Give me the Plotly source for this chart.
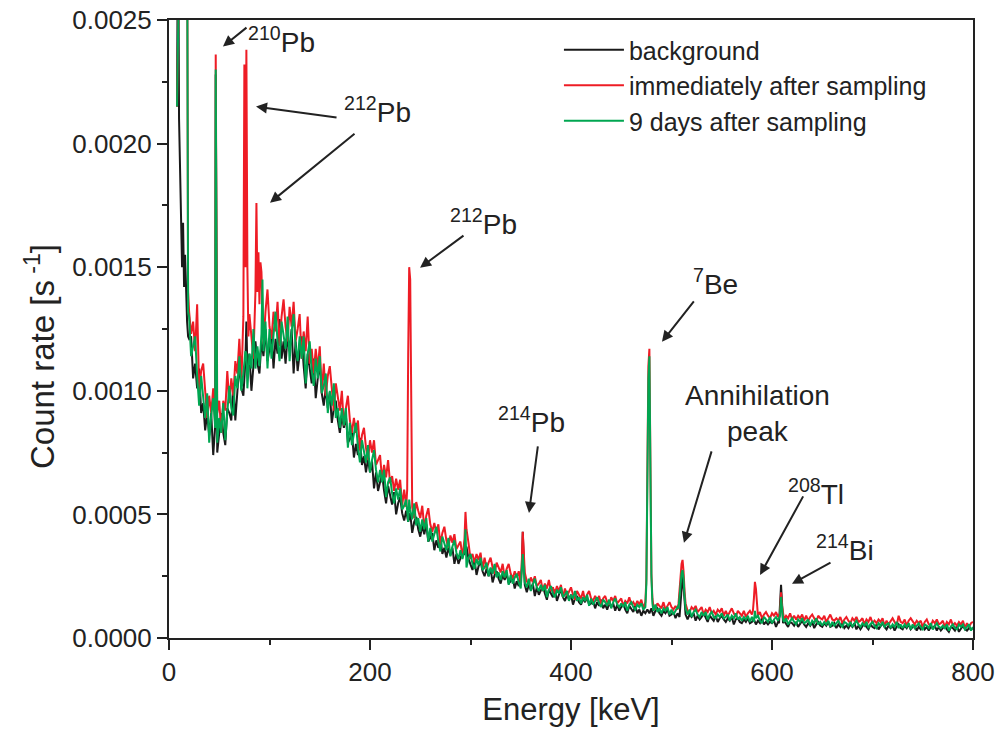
import plotly.graph_objects as go

# ---------------- data (count rate in units of 1e-5 s^-1) ----------------
GRID_START, GRID_STEP = 20, 2   # keV, regular channel grid 20..800 keV

low_energy = [8, 9, 10, 11, 12, 13, 14, 15, 16, 17, 18, 19]
black_low = [215, 300, 210, 190, 170, 150, 168, 142, 155, 135, 128, 122]
red_low = [215, 300, 300, 300, 300, 300, 300, 300, 300, 300, 300, 140]
green_low = [215, 300, 300, 300, 300, 300, 300, 300, 300, 300, 300, 132]

green_grid = [
    130, 114, 118, 122, 106, 94, 106, 98, 89, 99,
    79, 90, 97, 85, 79, 89, 83, 95, 80, 93,
    102, 93, 90, 106, 101, 114, 100, 107, 116, 101,
    115, 109, 125, 109, 118, 110, 123, 116, 128, 109,
    125, 113, 123, 132, 120, 112, 128, 123, 117, 130,
    112, 124, 131, 118, 112, 122, 113, 122, 103, 115,
    120, 108, 102, 113, 105, 114, 99, 102, 107, 91,
    100, 94, 103, 89, 93, 85, 93, 86, 93, 77,
    87, 78, 83, 87, 77, 71, 80, 76, 71, 78,
    67, 72, 76, 68, 63, 68, 63, 68, 57, 63,
    65, 58.5, 54.5, 60.5, 56, 60.5, 52, 53.5, 56, 47,
    52, 48, 54.5, 45.5, 48.5, 43, 48, 44, 48.5, 39,
    44.5, 39, 42, 45, 39, 35, 41, 38.5, 35.5, 40.5,
    33, 37, 39.5, 34.5, 32, 35.5, 32, 35.5, 28.5, 32.5,
    34, 30, 28, 32, 29.5, 32.5, 27.5, 28.5, 30.5, 25,
    28.5, 26, 30, 24.5, 26.5, 23.5, 27, 24.5, 27.5, 21.5,
    25.5, 22, 24.5, 26, 22.5, 20, 24, 22.5, 20.5, 24,
    19, 22, 24, 20.5, 19, 21.5, 19, 21.5, 16.5, 19.5,
    21, 18, 16.5, 19.5, 18, 20.5, 16.5, 17.5, 19, 15,
    17.5, 16, 19, 15, 16.5, 14, 16.5, 15, 17.5, 13,
    16, 13.5, 15, 16.5, 14, 12.5, 15.5, 14.5, 13, 15.5,
    12, 14.5, 16, 13.5, 12.5, 14, 12.5, 14.5, 11, 13.5,
    14.5, 12.5, 11.5, 13.5, 12.5, 14, 11.5, 12.5, 13.5, 10.5,
    12.5, 11, 13.5, 10.5, 12, 10, 12, 11, 12.5, 9.5,
    11.5, 9.5, 11, 12.5, 10, 8.5, 11.5, 10.5, 9.5, 11.5,
    8.5, 10.5, 11.5, 9.5, 8.5, 10.5, 9, 10.5, 7.5, 9.5,
    10.5, 8.5, 8, 9.5, 8.5, 10, 8, 8.5, 9.5, 7,
    9, 8, 10, 7.5, 8.5, 7, 8.5, 7.5, 9, 6.5,
    8.5, 6.5, 8, 9, 7, 6, 8.5, 7.5, 6.5, 8.5,
    6, 7.5, 8.5, 7, 6, 7.5, 6.5, 8, 5.5, 7,
    8, 6.5, 5.5, 7.5, 6.5, 8, 6, 6.5, 7.5, 5,
    7, 6, 8, 5.5, 6.5, 5, 6.5, 5.5, 7, 4.5,
    6.5, 5, 6, 7, 5.5, 4.5, 6.5, 6, 5, 6.5,
    4.5, 6, 7, 5.5, 4.5, 6, 5, 6.5, 4, 5.5,
    6.5, 5, 4, 6, 5, 6.5, 4.5, 5.5, 6, 4,
    5.5, 4.5, 6.5, 4, 5.5, 4, 5.5, 4.5, 6, 3.5,
    5.5, 4, 5, 6, 4.5, 3.5, 5.5, 5, 4, 6,
    3.5, 5, 6, 4.5, 4, 5, 4, 5.5, 3, 4.5,
    5.5, 4, 3.5, 5.5, 4.5, 5.5, 3.5, 4.5, 5.5, 3,
    4.5,
]

red_grid = [
    132, 123, 128, 116, 135, 100, 108, 111, 98, 89,
    98, 91, 101, 86, 91, 96, 83, 96, 92, 108,
    95, 105, 98, 112, 107, 121, 103, 120, 109, 121,
    131, 120, 113, 140, 146, 142, 148, 119, 132, 141,
    126, 121, 132, 124, 136, 118, 130, 137, 126, 120,
    134, 126, 136, 120, 125, 131, 113, 124, 116, 130,
    111, 117, 107, 117, 109, 118, 99, 111, 98, 106,
    110, 99, 92, 103, 97, 92, 100, 86, 93, 98,
    88, 83, 89, 83, 88, 76, 82, 85, 77, 72,
    80, 75, 80, 70, 72, 74, 64, 70, 65, 72,
    62.5, 65.5, 59.5, 64.5, 60, 64, 53.5, 60, 53, 57,
    59.5, 53, 48.5, 55, 51.5, 48.5, 53.5, 44.5, 49.5, 52.5,
    46, 43, 46.5, 42.5, 46, 38, 42.5, 45, 39.5, 36.5,
    41.5, 38.5, 42, 36, 37.5, 39, 32.5, 40, 44, 38.5,
    32, 34, 30.5, 34, 31.5, 34.5, 28, 32.5, 28, 30.5,
    32.5, 28.5, 26, 30.5, 28.5, 26.5, 30, 24.5, 28, 30,
    26, 24, 27, 24.5, 27, 22, 25, 26.5, 23, 21.5,
    24.5, 22.5, 25, 21, 22, 23.5, 19, 22, 20, 23.5,
    19, 20.5, 18, 21, 19, 21.5, 16.5, 20, 17, 19,
    20.5, 17.5, 15.5, 19, 17.5, 16, 19, 15, 17.5, 19,
    16, 15, 17, 15, 17, 13.5, 16, 17, 14.5, 13.5,
    16.5, 15, 17, 14, 15, 16, 13, 15, 14, 16.5,
    13.5, 14.5, 13, 15, 13.5, 15.5, 12, 14.5, 12.5, 14,
    15.5, 13, 11.5, 14, 13, 12, 14.5, 11.5, 13, 14.5,
    12.5, 11.5, 13, 11.5, 13.5, 10.5, 12, 13, 11, 10.5,
    12.5, 11.5, 13, 10.5, 11.5, 12.5, 9.5, 11.5, 10.5, 12.5,
    10, 11, 9.5, 11.5, 10.5, 12, 9, 11, 9, 10.5,
    12, 10, 8.5, 11, 10, 9, 11, 8.5, 10, 11,
    9.5, 9, 10.5, 9, 10.5, 8, 9.5, 10.5, 9, 8,
    10, 9, 10.5, 8.5, 10, 10, 7.5, 9, 8, 10,
    7.5, 9, 7.5, 9, 8, 9.5, 7, 9, 7, 8.5,
    9.5, 8, 6.5, 9, 8, 7.5, 9, 6.5, 8, 9.5,
    7.5, 7, 8, 7, 8.5, 6, 7.5, 8.5, 7, 6,
    8, 7, 8.5, 6.5, 7, 8, 5.5, 7.5, 6.5, 8.5,
    6, 7, 6, 7.5, 6.5, 8, 5, 7, 5.5, 7,
    8, 6.5, 5, 9, 6.5, 6, 7.5, 5, 7, 8,
    6.5, 5.5, 7, 6, 7, 4.5, 6.5, 7.5, 5.5, 5,
    7, 6, 7.5, 5.5, 6, 7, 4.5, 6.5, 5.5, 7.5,
    5, 6, 5, 6.5, 5.5, 7, 4, 6, 4.5, 6,
    6.5,
]

black_grid = [
    121, 122, 105, 111, 101, 109, 91, 95, 84, 91,
    82, 91, 74, 86, 75, 83, 91, 83, 78, 93,
    91, 88, 103, 88, 101, 111, 101, 98, 109, 103,
    115, 100, 112, 120, 111, 107, 120, 114, 125, 112,
    117, 124, 109, 121, 115, 129, 113, 120, 111, 122,
    116, 125, 107, 120, 108, 116, 122, 110, 101, 115,
    109, 103, 113, 97, 105, 111, 99, 94, 101, 93,
    99.5, 87, 93, 96, 88, 83, 90, 85, 90, 79,
    80.5, 83, 73, 78.5, 74, 81, 70, 73.5, 67, 72.5,
    67, 71.5, 60.5, 67, 59.5, 63.5, 66.5, 59.5, 54.5, 61.5,
    57.5, 54, 59, 50, 54.5, 57, 50.5, 47.5, 51.5, 47,
    50.5, 42.5, 47, 49, 44, 41, 45.5, 42, 46, 39,
    40.5, 42.5, 35.5, 39.5, 36.5, 41, 34, 36.5, 32.5, 36.5,
    33.5, 36.5, 30, 34, 30, 32.5, 34.5, 34, 37, 32,
    29.5, 27.5, 31.5, 25.5, 29, 31, 27, 25, 28, 25,
    28, 22.5, 25.5, 27, 24, 22, 25.5, 23.5, 26, 22,
    23, 24.5, 20, 23, 21, 24.5, 19.5, 21.5, 18.5, 21.5,
    19.5, 22, 17, 20.5, 17.5, 19.5, 21, 18, 15.5, 19.5,
    18, 16.5, 19.5, 15, 17.5, 19.5, 16.5, 15, 17.5, 15.5,
    17.5, 13.5, 16, 17, 14.5, 13.5, 16, 14.5, 16.5, 13.5,
    14, 15, 12, 14.5, 13, 15.5, 12, 13.5, 11.5, 14,
    12.5, 14, 11, 13.5, 11, 12.5, 14, 11.5, 10, 13,
    11.5, 10.5, 13, 10, 11.5, 9, 11, 10, 11.5, 10,
    12, 9, 11, 12, 10, 9, 11, 10, 11.5, 9,
    9.5, 10.5, 8, 10, 8.5, 11, 8, 9.5, 7.5, 9.5,
    8.5, 10, 7, 9, 7.5, 8.5, 10, 8, 6.5, 9,
    8, 7, 9, 6.5, 8, 9, 7.5, 6.5, 8, 7,
    8.5, 5.5, 7.5, 8, 6.5, 6, 7.5, 6.5, 8, 6,
    6.5, 7.5, 5.5, 7, 6, 8, 5.5, 6.5, 5.5, 6.5,
    6, 7, 4.5, 6.5, 5, 6, 7, 5.5, 4.5, 6.5,
    6, 5, 6.5, 4.5, 6, 7, 5.5, 4.5, 6, 5,
    6.5, 4, 5.5, 6.5, 5, 4.5, 6, 5, 6.5, 4.5,
    5, 6, 4, 5.5, 4.5, 6, 4, 5, 4, 5.5,
    4.5, 6, 3.5, 5, 3.5, 5, 6, 4.5, 3.5, 5.5,
    4.5, 4, 5.5, 3.5, 5, 6, 4.5, 3.5, 5, 4,
    5, 3, 4.5, 5.5, 4, 3.5, 5, 4, 5.5, 3.5,
    4.5, 5, 3, 4.5, 3.5, 5.5, 3.5, 4.5, 3, 4.5,
    4, 5, 3, 4.5, 3, 4, 5, 3.5, 2.5, 4.5,
    4, 3, 5, 2.5, 4, 5, 3.5, 3, 4, 3.5,
    4,
]

# peak channels (energy keV, count rate 1e-5 s^-1)
black_peak_E = [46.5, 76, 77, 78, 351, 352, 353, 509, 510, 511, 512, 513, 607, 608, 609, 610, 611]
black_peak_v = [228, 112, 128, 108, 28, 43, 32, 14, 20, 25, 21, 13, 6, 12, 21.5, 14, 6]

red_peak_E = [46.5, 74, 75, 76, 77, 78, 79, 87, 88, 89, 90, 91, 237, 238, 239, 240, 241, 295,
              351, 352, 353, 475, 476, 477, 478, 479, 480, 481, 507, 508, 509, 510, 511, 512,
              513, 514, 581, 582, 583, 584, 585, 608, 609, 610]
red_peak_v = [236, 130, 232, 150, 238, 150, 122, 176, 140, 156, 135, 152, 60, 115, 150, 145, 75, 51,
              30, 43, 35, 24, 65, 110, 117, 68, 26, 16, 14, 19, 26, 30, 31.6, 27,
              19, 14, 11, 16, 22.7, 20, 13, 10, 18.5, 13]

green_peak_E = [46.5, 77, 93, 239, 295, 352, 475, 476, 477, 478, 479, 480, 481, 507, 508, 509,
                510, 511, 512, 513, 514, 583, 608, 609, 610, 611]
green_peak_v = [230, 115, 145, 56, 44, 34, 22, 60, 105, 114, 65, 25, 14, 12, 17, 23,
                26, 27.5, 24, 17, 12, 11, 9, 16.6, 12, 7.5]

series_names = ["background", "immediately after sampling", "9 days after sampling"]
series_colors = ["#1a1a1a", "#ee1c25", "#00a651"]

# labels: (text, energy keV, rate s^-1)
label_text = ["<sup>210</sup>Pb", "<sup>212</sup>Pb", "<sup>212</sup>Pb", "<sup>214</sup>Pb",
              "<sup>7</sup>Be", "Annihilation<br>peak", "<sup>208</sup>Tl", "<sup>214</sup>Bi"]
label_E = [112.0, 207.0, 313.0, 361.0, 544.0, 586.0, 644.0, 673.0]
label_v = [0.002420, 0.002134, 0.001684, 0.000883, 0.001441, 0.000907, 0.000591, 0.000364]

# arrows: head (energy, rate) <- tail (energy, rate)
arrow_head_E = [53.7, 86.6, 100.5, 249.8, 358.2, 490.5, 512.4, 588.1, 619.9]
arrow_head_v = [0.002393, 0.002150, 0.001761, 0.001498, 0.000506, 0.001198, 0.000385, 0.000255, 0.000219]
arrow_tail_E = [78.6, 168.2, 186.1, 294.5, 367.2, 523.4, 540.3, 631.8, 659.7]
arrow_tail_v = [0.002474, 0.002105, 0.002045, 0.001632, 0.000781, 0.001368, 0.000761, 0.000579, 0.000308]


def build(low_v, grid_v, peak_E, peak_v):
    assert len(grid_v) == 391, len(grid_v)
    pts = dict(zip(low_energy, low_v))
    for i, v in enumerate(grid_v):
        pts[GRID_START + GRID_STEP * i] = v
    for e, v in zip(peak_E, peak_v):
        pts[e] = v
    xs = sorted(pts)
    return xs, [pts[e] * 1e-5 for e in xs]


spectra = [
    build(black_low, black_grid, black_peak_E, black_peak_v),
    build(red_low, red_grid, red_peak_E, red_peak_v),
    build(green_low, green_grid, green_peak_E, green_peak_v),
]

FONT = "Liberation Sans, Arial, Helvetica, sans-serif"
AX = "#222222"

fig = go.Figure()
for (xs, ys), name, col in zip(spectra, series_names, series_colors):
    fig.add_trace(go.Scatter(x=xs, y=ys, mode="lines", name=name,
                             line=dict(color=col, width=2)))

annotations = []
for t, e, v in zip(label_text, label_E, label_v):
    annotations.append(dict(x=e, y=v, xref="x", yref="y", text=t, showarrow=False,
                            font=dict(family=FONT, size=28, color=AX)))
for hx, hy, tx, ty in zip(arrow_head_E, arrow_head_v, arrow_tail_E, arrow_tail_v):
    annotations.append(dict(x=hx, y=hy, ax=tx, ay=ty, xref="x", yref="y", axref="x", ayref="y",
                            text="", showarrow=True, arrowhead=2, arrowsize=1.1,
                            arrowwidth=2, arrowcolor=AX, standoff=0, startstandoff=0))

axis_common = dict(
    showline=True, linewidth=2, linecolor=AX, mirror=True,
    ticks="outside", ticklen=10, tickwidth=2, tickcolor=AX,
    showgrid=False, zeroline=False, automargin=False,
    tickfont=dict(family=FONT, size=26, color=AX),
)

fig.update_layout(
    width=996, height=729,
    margin=dict(l=169, r=23, t=20, b=91),
    paper_bgcolor="white", plot_bgcolor="white",
    font=dict(family=FONT, color=AX),
    xaxis=dict(range=[0, 800], dtick=200, tick0=0,
               minor=dict(dtick=100, ticklen=5, tickwidth=2, tickcolor=AX, ticks="outside"),
               title=dict(text="Energy [keV]", font=dict(family=FONT, size=31, color=AX), standoff=12),
               **axis_common),
    yaxis=dict(range=[0, 0.0025], dtick=0.0005, tick0=0, tickformat=".4f",
               minor=dict(dtick=0.00025, ticklen=5, tickwidth=2, tickcolor=AX, ticks="outside"),
               title=dict(text="Count rate [s<sup> -1</sup>]" + "&nbsp;" * 6,
                          font=dict(family=FONT, size=33, color=AX), standoff=8),
               **axis_common),
    legend=dict(x=0.485, y=0.9885, xanchor="left", yanchor="top",
                bgcolor="rgba(0,0,0,0)", font=dict(family=FONT, size=25, color=AX),
                tracegroupgap=0, itemwidth=60),
    annotations=annotations,
    showlegend=True,
)

fig.write_html("out.html")
